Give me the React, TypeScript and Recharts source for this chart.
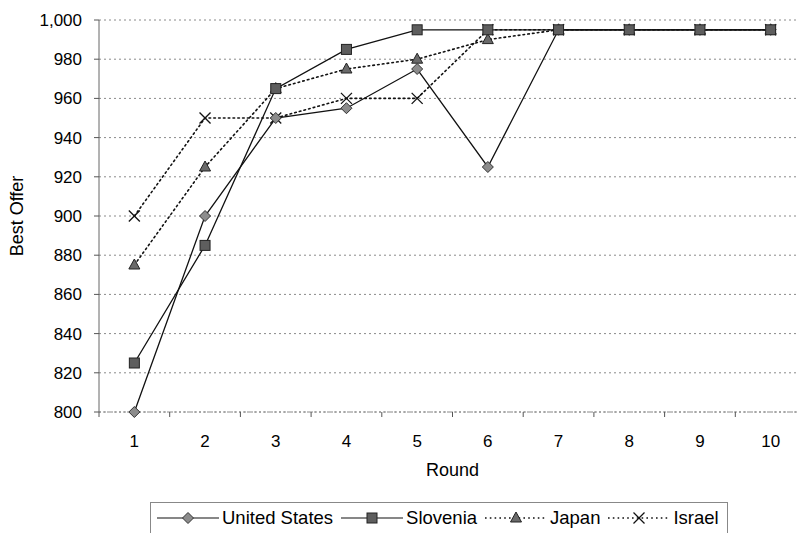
import React from 'react';
import {
  LineChart,
  Line,
  XAxis,
  YAxis,
  CartesianGrid,
  Legend,
  Label,
} from 'recharts';

const rounds = [1, 2, 3, 4, 5, 6, 7, 8, 9, 10];
const unitedStates = [800, 900, 950, 955, 975, 925, 995, 995, 995, 995];
const slovenia = [825, 885, 965, 985, 995, 995, 995, 995, 995, 995];
const japan = [875, 925, 965, 975, 980, 990, 995, 995, 995, 995];
const israel = [900, 950, 950, 960, 960, 995, 995, 995, 995, 995];
const yTicks = [800, 820, 840, 860, 880, 900, 920, 940, 960, 980, 1000];
// half steps give the tick marks between categories
const xTicks = [0.5, 1, 1.5, 2, 2.5, 3, 3.5, 4, 4.5, 5, 5.5, 6, 6.5, 7, 7.5, 8, 8.5, 9, 9.5, 10, 10.5];

const data = rounds.map((round, i) => ({
  round,
  us: unitedStates[i],
  slovenia: slovenia[i],
  japan: japan[i],
  israel: israel[i],
}));

const FONT = '"Liberation Sans", Arial, sans-serif';

type Shape = 'diamond' | 'square' | 'triangle' | 'cross';

function Marker({ cx, cy, shape }: { cx: number; cy: number; shape: Shape }) {
  if (cx == null || cy == null) return null;
  if (shape === 'diamond') {
    return (
      <polygon
        points={`${cx},${cy - 5.5} ${cx + 5.5},${cy} ${cx},${cy + 5.5} ${cx - 5.5},${cy}`}
        fill="#8c8c8c"
        stroke="#333"
        strokeWidth={1}
      />
    );
  }
  if (shape === 'square') {
    return <rect x={cx - 5} y={cy - 5} width={10} height={10} fill="#5e5e5e" stroke="#222" strokeWidth={1} />;
  }
  if (shape === 'triangle') {
    return (
      <polygon
        points={`${cx},${cy - 6} ${cx + 5.5},${cy + 4} ${cx - 5.5},${cy + 4}`}
        fill="#6a6a6a"
        stroke="#222"
        strokeWidth={1}
      />
    );
  }
  return (
    <g stroke="#111" strokeWidth={1.3}>
      <line x1={cx - 5.5} y1={cy - 5.5} x2={cx + 5.5} y2={cy + 5.5} />
      <line x1={cx - 5.5} y1={cy + 5.5} x2={cx + 5.5} y2={cy - 5.5} />
    </g>
  );
}

const series: { key: string; name: string; dash?: string; shape: Shape }[] = [
  { key: 'japan', name: 'Japan', dash: '1.6 3.2', shape: 'triangle' },
  { key: 'israel', name: 'Israel', dash: '1.6 3.2', shape: 'cross' },
  { key: 'us', name: 'United States', shape: 'diamond' },
  { key: 'slovenia', name: 'Slovenia', shape: 'square' },
];
const legendOrder = ['us', 'slovenia', 'japan', 'israel'];

function RoundTick({ x, y, payload }: any) {
  const v = payload.value;
  if (Number.isInteger(v)) {
    return (
      <text x={x} y={y + 35} textAnchor="middle" fontSize={17} fontFamily={FONT} fill="#000">
        {v}
      </text>
    );
  }
  return <line x1={x} x2={x} y1={y} y2={y + 5} stroke="#555" strokeWidth={1} />;
}

function LegendBox() {
  return (
    <div
      style={{
        display: 'inline-flex',
        alignItems: 'center',
        border: '1px solid #888',
        height: 32,
        padding: '0 0 0 6px',
        fontFamily: FONT,
        fontSize: 18.5,
        color: '#000',
        boxSizing: 'border-box',
        whiteSpace: 'nowrap',
      }}
    >
      {legendOrder.map((k) => {
        const s = series.find((x) => x.key === k)!;
        return (
          <div key={k} style={{ display: 'flex', alignItems: 'center', marginRight: 8 }}>
            <svg width={62} height={16} style={{ marginRight: 3 }}>
              <line x1={0} y1={8} x2={62} y2={8} stroke="#111" strokeWidth={s.dash ? 1.5 : 1.2} strokeDasharray={s.dash} />
              <Marker cx={31} cy={8} shape={s.shape} />
            </svg>
            <span>{s.name}</span>
          </div>
        );
      })}
    </div>
  );
}

export default function App() {
  return (
    <div style={{ position: 'absolute', left: 0, top: 0, width: 797, height: 533, overflow: 'hidden', background: '#fff' }}>
      <LineChart width={820} height={533} data={data} margin={{ top: 20, right: 14, left: 0, bottom: 61 }}>
        <CartesianGrid vertical={false} stroke="#8a8a8a" strokeDasharray="2 3" />
        <XAxis
          dataKey="round"
          type="number"
          domain={[0.5, 10.5]}
          ticks={xTicks}
          interval={0}
          height={60}
          tickLine={false}
          tickSize={0}
          tickMargin={0}
          tick={<RoundTick />}
          axisLine={{ stroke: '#888', strokeDasharray: '2 2' }}
        >
          <Label
            content={({ viewBox }: any) => (
              <text
                x={viewBox.x + viewBox.width / 2}
                y={viewBox.y + 64}
                textAnchor="middle"
                fontSize={18}
                fontFamily={FONT}
                fill="#000"
              >
                Round
              </text>
            )}
          />
        </XAxis>
        <YAxis
          domain={[800, 1000]}
          ticks={yTicks}
          interval={0}
          width={99}
          tickSize={5}
          tickMargin={12}
          tickFormatter={(v: number) => v.toLocaleString('en-US')}
          tick={{ fontSize: 17, fontFamily: FONT, fill: '#000' }}
          tickLine={{ stroke: '#555' }}
          axisLine={{ stroke: '#666' }}
        >
          <Label
            content={({ viewBox }: any) => {
              const cy = viewBox.y + viewBox.height / 2;
              return (
                <text
                  x={17}
                  y={cy}
                  transform={`rotate(-90 17 ${cy})`}
                  textAnchor="middle"
                  dominantBaseline="central"
                  fontSize={18}
                  fontFamily={FONT}
                  fill="#000"
                >
                  Best Offer
                </text>
              );
            }}
          />
        </YAxis>
        <Legend
          layout="horizontal"
          verticalAlign="middle"
          align="center"
          content={<LegendBox />}
          wrapperStyle={{ left: 150, top: 502, width: 620 }}
        />
        {series.map((s) => (
          <Line
            key={s.key}
            dataKey={s.key}
            name={s.name}
            type="linear"
            stroke="#111"
            strokeWidth={s.dash ? 1.6 : 1.3}
            strokeDasharray={s.dash}
            strokeLinecap="round"
            isAnimationActive={false}
            dot={(p: any) => <Marker key={`${s.key}-${p.index}`} cx={p.cx} cy={p.cy} shape={s.shape} />}
            activeDot={false}
          />
        ))}
      </LineChart>
    </div>
  );
}
